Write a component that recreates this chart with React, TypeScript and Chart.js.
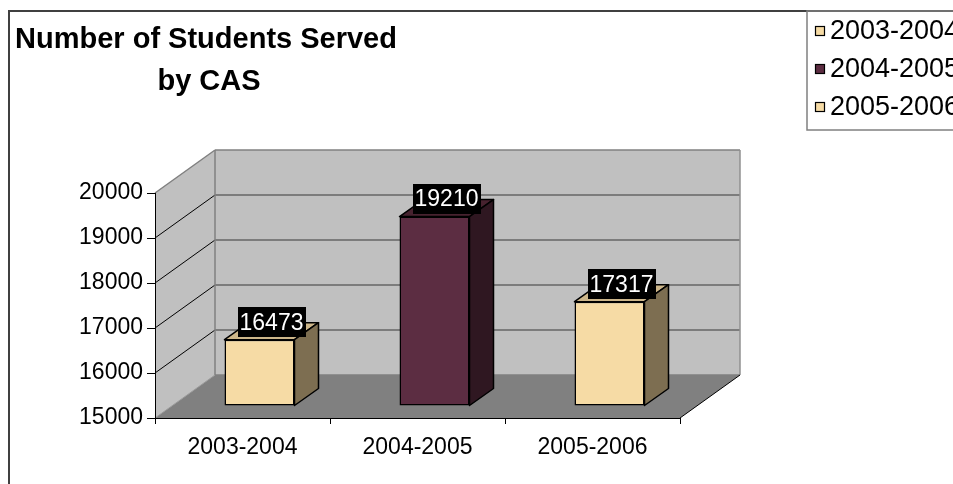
import React, { useEffect, useRef } from "react";
import { Chart, registerables } from "chart.js";

Chart.register(...registerables);

// ---- data ----
const categories = ["2003-2004", "2004-2005", "2005-2006"];
const studentsServed = [16473, 19210, 17317];
const yTicks = [15000, 16000, 17000, 18000, 19000, 20000];
const titleLines = ["Number of Students Served", "by CAS"];
const legendLabels = ["2003-2004", "2004-2005", "2005-2006"];

// ---- styles ----
const FONT = "'Liberation Sans', Arial, sans-serif";
const frontColors = ["#F6DBA5", "#5C2D42", "#F6DBA5"];
const sideColors = ["#7D6E51", "#2F1721", "#7D6E51"];
const topColors = ["#CDB68A", "#47222F", "#CDB68A"];

const BACK = { dx: 60, dy: -43 };
const BAR_FRONT = { dx: 17, dy: -12 };
const BAR_DEPTH = { dx: 24, dy: -17 };

function poly(ctx: CanvasRenderingContext2D, pts: number[][], fill?: string, stroke?: string, lw = 1) {
  ctx.beginPath();
  ctx.moveTo(pts[0][0], pts[0][1]);
  for (let i = 1; i < pts.length; i++) ctx.lineTo(pts[i][0], pts[i][1]);
  ctx.closePath();
  if (fill) {
    ctx.fillStyle = fill;
    ctx.fill();
  }
  if (stroke) {
    ctx.strokeStyle = stroke;
    ctx.lineWidth = lw;
    ctx.stroke();
  }
}

function line(ctx: CanvasRenderingContext2D, x1: number, y1: number, x2: number, y2: number, color: string, lw = 1) {
  ctx.beginPath();
  ctx.moveTo(x1, y1);
  ctx.lineTo(x2, y2);
  ctx.strokeStyle = color;
  ctx.lineWidth = lw;
  ctx.stroke();
}

const scene3d = {
  id: "scene3d",
  beforeDraw(chart: any) {
    const { ctx, chartArea: a, scales } = chart;
    const ys = scales.y;
    const L = a.left, R = a.right, T = a.top, B = a.bottom;
    const bx = BACK.dx, by = BACK.dy;
    ctx.save();
    ctx.fillStyle = "#ffffff";
    ctx.fillRect(0, 0, chart.width, chart.height);
    // outer frame
    ctx.strokeStyle = "#404040";
    ctx.lineWidth = 2;
    ctx.strokeRect(9, 11, chart.width + 40, chart.height + 40);
    // side wall
    poly(ctx, [[L, T], [L + bx, T + by], [L + bx, B + by], [L, B]], "#C0C0C0");
    // back wall
    poly(ctx, [[L + bx, T + by], [R + bx, T + by], [R + bx, B + by], [L + bx, B + by]], "#C0C0C0");
    // floor
    poly(ctx, [[L, B], [R, B], [R + bx, B + by], [L + bx, B + by]], "#808080");
    // grid lines
    ys.ticks.forEach((t: any, i: number) => {
      const py = ys.getPixelForValue(t.value);
      const edge = i === 0 || i === ys.ticks.length - 1;
      line(ctx, L + bx, py + by, R + bx, py + by, edge ? "#808080" : "#666666", edge ? 1.5 : 1.6);
      if (i > 0) line(ctx, L, py, L + bx, py + by, edge ? "#808080" : "#000000", edge ? 1.5 : 1);
    });
    // wall edges
    line(ctx, L + bx, T + by, L + bx, B + by, "#808080", 1.5);
    line(ctx, R + bx, T + by, R + bx, B + by, "#909090", 1.5);
    line(ctx, L, B, L + bx, B + by, "#9a9a9a", 1);
    line(ctx, R, B, R + bx, B + by, "#000000", 1);
    ctx.restore();
  },
  beforeDatasetsDraw(chart: any) {
    const { ctx } = chart;
    const meta = chart.getDatasetMeta(0);
    ctx.save();
    meta.data.forEach((el: any, i: number) => {
      const p = el.getProps(["x", "y", "base", "width"], true);
      const x1 = p.x - p.width / 2 + BAR_FRONT.dx;
      const x2 = p.x + p.width / 2 + BAR_FRONT.dx;
      const yt = p.y + BAR_FRONT.dy;
      const yb = p.base + BAR_FRONT.dy;
      const dx = BAR_DEPTH.dx, dy = BAR_DEPTH.dy;
      ctx.lineJoin = "round";
      poly(ctx, [[x1, yt], [x2, yt], [x2 + dx, yt + dy], [x1 + dx, yt + dy]], topColors[i], "#000", 1.5);
      poly(ctx, [[x2, yt], [x2 + dx, yt + dy], [x2 + dx, yb + dy], [x2, yb]], sideColors[i], "#000", 1.5);
    });
    ctx.restore();
    ctx.save();
    ctx.translate(BAR_FRONT.dx, BAR_FRONT.dy);
  },
  afterDatasetsDraw(chart: any) {
    const { ctx } = chart;
    ctx.restore();
    const meta = chart.getDatasetMeta(0);
    ctx.save();
    ctx.font = `23px ${FONT}`;
    ctx.textAlign = "center";
    ctx.textBaseline = "middle";
    meta.data.forEach((el: any, i: number) => {
      const p = el.getProps(["x", "y"], true);
      const text = String(studentsServed[i]);
      const cx = p.x + BAR_FRONT.dx + BAR_DEPTH.dx / 2;
      const cy = p.y + BAR_FRONT.dy + BAR_DEPTH.dy / 2 - 9;
      const w = ctx.measureText(text).width + 4;
      const h = 30;
      ctx.fillStyle = "#000";
      ctx.fillRect(Math.round(cx - w / 2), Math.round(cy - h / 2), Math.round(w), h);
      ctx.fillStyle = "#fff";
      ctx.fillText(text, cx, cy + 1);
    });
    ctx.restore();
  },
  afterDraw(chart: any) {
    const { ctx } = chart;
    ctx.save();
    // title
    ctx.fillStyle = "#000";
    ctx.font = `bold 29px ${FONT}`;
    ctx.textAlign = "center";
    ctx.textBaseline = "middle";
    ctx.fillText(titleLines[0], 206, 40);
    ctx.fillText(titleLines[1], 209, 82);
    // legend
    const lx = 807, ly = 11, lb = 130;
    ctx.strokeStyle = "#808080";
    ctx.lineWidth = 1.5;
    ctx.strokeRect(lx, ly, chart.width, lb - ly);
    ctx.font = `27px ${FONT}`;
    ctx.textAlign = "left";
    ctx.textBaseline = "middle";
    const rows = [31, 69, 107];
    legendLabels.forEach((lab, i) => {
      const ry = rows[i];
      ctx.fillStyle = frontColors[i];
      ctx.fillRect(815, ry - 5, 10, 10);
      ctx.strokeStyle = "#000";
      ctx.lineWidth = 1.2;
      ctx.strokeRect(815.5, ry - 4.5, 9, 9);
      ctx.fillStyle = "#000";
      ctx.fillText(lab, 830, ry + 1);
    });
    ctx.restore();
  },
};

export default function App() {
  const ref = useRef<HTMLCanvasElement | null>(null);
  useEffect(() => {
    if (!ref.current) return;
    const chart = new Chart(ref.current, {
      type: "bar",
      data: {
        labels: categories,
        datasets: [
          {
            data: studentsServed,
            base: yTicks[0],
            backgroundColor: frontColors,
            borderColor: "#000",
            borderWidth: 1.5,
            borderSkipped: false,
            barPercentage: 0.4,
            categoryPercentage: 1,
            clip: false as any,
          } as any,
        ],
      },
      options: {
        animation: false,
        responsive: false,
        devicePixelRatio: 1,
        layout: { padding: { top: 193, right: 273, bottom: 0, left: 0 } },
        plugins: {
          legend: { display: false },
          title: { display: false },
          tooltip: { enabled: false },
        },
        scales: {
          x: {
            type: "category",
            offset: true,
            grid: { display: true, drawOnChartArea: false, drawTicks: true, tickLength: 6, color: "#000", offset: true },
            border: { display: true, color: "#000", width: 1 },
            ticks: { color: "#000", font: { family: FONT, size: 23 }, padding: 10, maxRotation: 0, autoSkip: false },
            afterFit: (s: any) => {
              s.height = 66;
            },
          },
          y: {
            type: "linear",
            min: yTicks[0],
            max: yTicks[yTicks.length - 1],
            afterBuildTicks: (s: any) => {
              s.ticks = yTicks.map((v) => ({ value: v }));
            },
            ticks: { color: "#000", font: { family: FONT, size: 23 }, padding: 4, callback: (v: any) => String(v) },
            grid: { display: true, drawOnChartArea: false, drawTicks: true, tickLength: 8, color: "#000" },
            border: { display: true, color: "#000", width: 1 },
            afterFit: (s: any) => {
              s.width = 155;
            },
          },
        },
      },
      plugins: [scene3d],
    });
    return () => chart.destroy();
  }, []);
  return (
    <canvas
      ref={ref}
      width={953}
      height={484}
      style={{ position: "absolute", left: 0, top: 0, width: 953, height: 484 }}
    />
  );
}
